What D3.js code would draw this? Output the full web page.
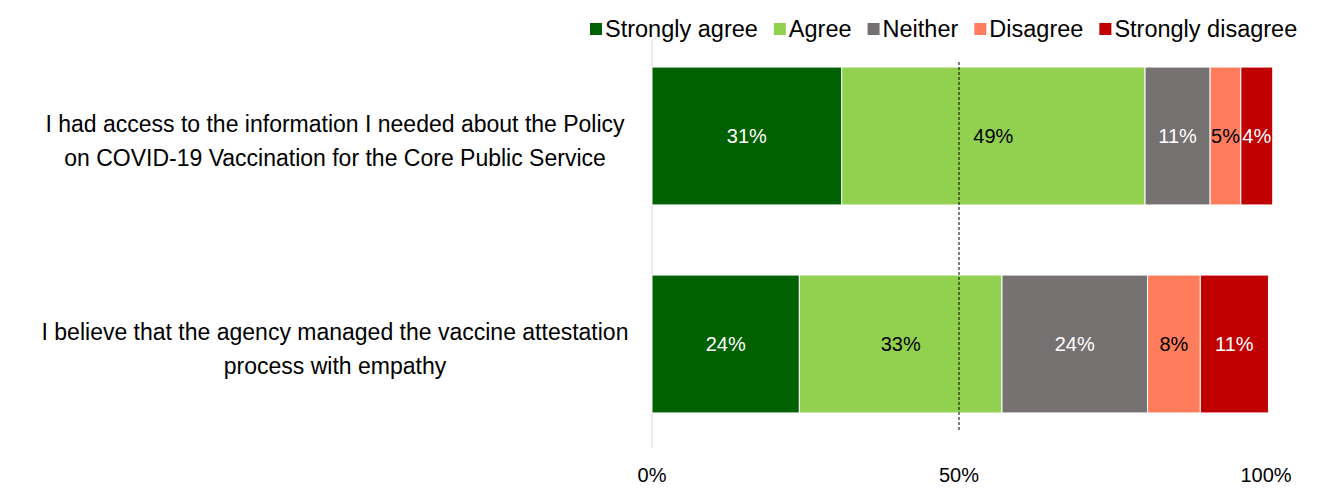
<!DOCTYPE html>
<html>
<head>
<meta charset="utf-8">
<script src="https://cdn.jsdelivr.net/npm/d3@7"></script>
<style>
  body { margin: 0; background: #fff; }
  text { font-family: "Liberation Sans", Arial, sans-serif; }
</style>
</head>
<body>
<svg id="chart" width="1342" height="503"></svg>
<script>
// chart data
var questions = [
  ["I had access to the information I needed about the Policy", "on COVID-19 Vaccination for the Core Public Service"],
  ["I believe that the agency managed the vaccine attestation", "process with empathy"]
];
var responses = ["Strongly agree", "Agree", "Neither", "Disagree", "Strongly disagree"];
var colors = ["#006100", "#92D050", "#767171", "#FF7C5C", "#C00000"];
var labelColors = ["#fff", "#000", "#fff", "#000", "#fff"];
// percent per response, one array per question
var q1Values = [30.9, 49.4, 10.6, 5.0, 5.2];
var q2Values = [24.0, 33.0, 23.7, 8.6, 11.1];
var q1Labels = ["31%", "49%", "11%", "5%", "4%"];
var q2Labels = ["24%", "33%", "24%", "8%", "11%"];
var tickValues = [0, 50, 100];

var values = [q1Values, q2Values];
var labels = [q1Labels, q2Labels];

var svg = d3.select("#chart");

var x = d3.scaleLinear().domain([0, 100]).range([652, 1266]);
var y = d3.scaleBand()
    .domain(d3.range(questions.length))
    .range([32, 448])
    .paddingInner(0.337)
    .paddingOuter(0.1685);

// stack the segments
var rows = values.map(function(v, i) {
  var acc = 0;
  return v.map(function(d, j) {
    var seg = { row: i, k: j, x0: acc, x1: acc + d, label: labels[i][j] };
    acc += d;
    return seg;
  });
});

// axis line at 0
svg.append("line")
    .attr("x1", x(0)).attr("x2", x(0))
    .attr("y1", 40).attr("y2", 448)
    .attr("stroke", "#d9d9d9").attr("stroke-width", 1);

var row = svg.selectAll(".row")
  .data(rows)
  .enter().append("g")
    .attr("class", "row");

row.selectAll("rect")
  .data(function(d) { return d; })
  .enter().append("rect")
    .attr("x", function(d) { return x(d.x0); })
    .attr("y", function(d) { return y(d.row); })
    .attr("width", function(d) { return x(d.x1) - x(d.x0); })
    .attr("height", y.bandwidth())
    .attr("fill", function(d) { return colors[d.k]; })
    .attr("stroke", "#fff")
    .attr("stroke-width", 1);

row.selectAll("text")
  .data(function(d) { return d; })
  .enter().append("text")
    .attr("x", function(d) { return (x(d.x0) + x(d.x1)) / 2; })
    .attr("y", function(d) { return y(d.row) + y.bandwidth() / 2; })
    .attr("dy", "0.35em")
    .attr("text-anchor", "middle")
    .attr("font-size", 20)
    .attr("fill", function(d) { return labelColors[d.k]; })
    .text(function(d) { return d.label; });

// 50% dashed reference line
svg.append("line")
    .attr("x1", x(50)).attr("x2", x(50))
    .attr("y1", 62).attr("y2", 432)
    .attr("stroke", "#000")
    .attr("stroke-width", 1)
    .attr("stroke-dasharray", "3,2");

// category labels
var cat = svg.selectAll(".cat")
  .data(questions)
  .enter().append("text")
    .attr("class", "cat")
    .attr("text-anchor", "middle")
    .attr("font-size", 23)
    .attr("fill", "#000");

cat.selectAll("tspan")
  .data(function(d, i) { return d.map(function(t, j) { return { t: t, j: j, i: i, n: d.length }; }); })
  .enter().append("tspan")
    .attr("x", 335)
    .attr("y", function(d) { return y(d.i) + y.bandwidth() / 2 + 5 + (d.j - (d.n - 1) / 2) * 34; })
    .attr("dy", "0.35em")
    .text(function(d) { return d.t; });

// x axis tick labels
svg.selectAll(".tick")
  .data(tickValues)
  .enter().append("text")
    .attr("class", "tick")
    .attr("x", function(d) { return x(d); })
    .attr("y", 475)
    .attr("dy", "0.35em")
    .attr("text-anchor", "middle")
    .attr("font-size", 20)
    .attr("fill", "#000")
    .text(function(d) { return d + "%"; });

// legend
var legend = svg.append("g").attr("class", "legend");
var lx = 590;
responses.forEach(function(r, i) {
  legend.append("rect")
      .attr("x", lx).attr("y", 23)
      .attr("width", 12).attr("height", 12)
      .attr("fill", colors[i]);
  var t = legend.append("text")
      .attr("x", lx + 15).attr("y", 29)
      .attr("dy", "0.35em")
      .attr("font-size", 23.5)
      .attr("fill", "#000")
      .text(r);
  lx += 15 + t.node().getComputedTextLength() + 16;
});
</script>
</body>
</html>
